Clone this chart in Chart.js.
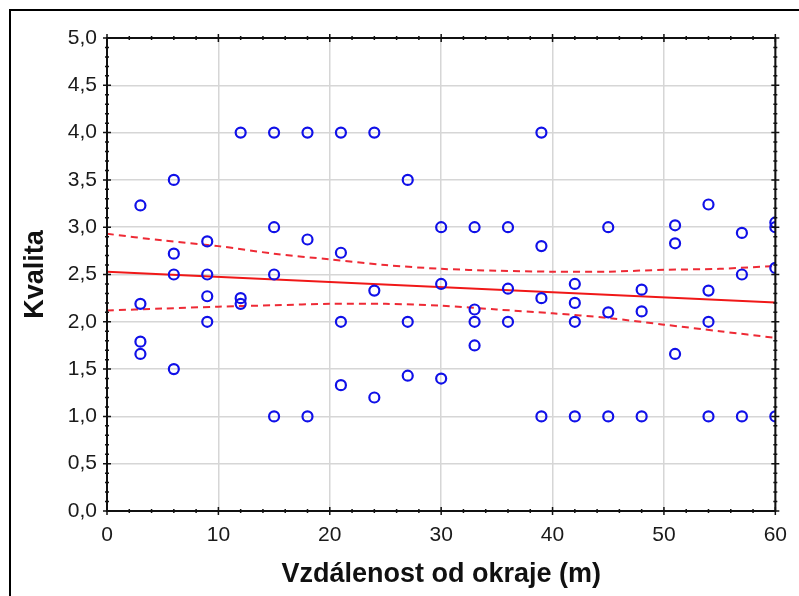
<!DOCTYPE html>
<html>
<head>
<meta charset="utf-8">
<script src="https://cdn.jsdelivr.net/npm/chart.js@4.4.1/dist/chart.umd.min.js"></script>
<style>
  html, body { margin: 0; padding: 0; background: #fff; }
  #wrap { position: relative; width: 799px; height: 596px; }
</style>
</head>
<body>
<div id="wrap"><canvas id="chart" width="799" height="596"></canvas></div>
<script>
// distance from edge (m) and quality for each sample
const distance = [
  3, 3, 3, 3,
  6, 6, 6, 6,
  9, 9, 9, 9,
  12, 12, 12,
  15, 15, 15, 15,
  18, 18, 18,
  21, 21, 21, 21,
  24, 24, 24,
  27, 27, 27,
  30, 30, 30,
  33, 33, 33, 33,
  36, 36, 36,
  39, 39, 39, 39,
  42, 42, 42, 42,
  45, 45, 45,
  48, 48, 48,
  51, 51, 51,
  54, 54, 54, 54,
  57, 57, 57,
  60, 60, 60, 60
];
const quality = [
  3.23, 2.19, 1.79, 1.66,
  3.5, 2.72, 2.5, 1.5,
  2.85, 2.5, 2.27, 2.0,
  4.0, 2.25, 2.19,
  4.0, 3.0, 2.5, 1.0,
  4.0, 2.87, 1.0,
  4.0, 2.73, 2.0, 1.33,
  4.0, 2.33, 1.2,
  3.5, 2.0, 1.43,
  3.0, 2.4, 1.4,
  3.0, 2.13, 2.0, 1.75,
  3.0, 2.35, 2.0,
  4.0, 2.8, 2.25, 1.0,
  2.4, 2.2, 2.0, 1.0,
  3.0, 2.1, 1.0,
  2.34, 2.11, 1.0,
  3.02, 2.83, 1.66,
  3.24, 2.33, 2.0, 1.0,
  2.94, 2.5, 1.0,
  3.05, 3.0, 2.57, 1.0
];

// regression line and its confidence band
const fitX = [0, 60];
const fitY = [2.53, 2.205];
const bandX = [0, 5, 10, 15, 20, 25, 30, 35, 40, 45, 50, 55, 60];
const bandUpper = [2.93, 2.86, 2.8, 2.72, 2.66, 2.6, 2.56, 2.54, 2.53, 2.53, 2.55, 2.56, 2.59];
const bandLower = [2.12, 2.14, 2.16, 2.175, 2.19, 2.19, 2.17, 2.13, 2.09, 2.04, 1.97, 1.9, 1.83];

const xTickLabels = ["0", "10", "20", "30", "40", "50", "60"];
const yTickLabels = ["0,0", "0,5", "1,0", "1,5", "2,0", "2,5", "3,0", "3,5", "4,0", "4,5", "5,0"];

const toPoints = (xs, ys) => xs.map((x, i) => ({ x: x, y: ys[i] }));

// outer frame, plot box and tick marks like the Statistica output
const framePlugin = {
  id: "frame",
  afterDraw(chart) {
    const ctx = chart.ctx;
    const a = chart.chartArea;
    const xs = chart.scales.x;
    const ys = chart.scales.y;
    ctx.save();
    ctx.strokeStyle = "#000";
    ctx.lineWidth = 2;
    ctx.beginPath();
    ctx.moveTo(10, 596);
    ctx.lineTo(10, 10);
    ctx.lineTo(799, 10);
    ctx.stroke();

    ctx.strokeStyle = "#111";
    ctx.strokeRect(a.left, a.top, a.right - a.left, a.bottom - a.top);

    ctx.lineWidth = 1.5;
    ctx.beginPath();
    for (let v = 0; v <= 60; v += 2) {
      const px = xs.getPixelForValue(v);
      const len = v % 10 === 0 ? 4 : 2;
      ctx.moveTo(px, a.bottom - len); ctx.lineTo(px, a.bottom + len);
      ctx.moveTo(px, a.top - len); ctx.lineTo(px, a.top + len);
    }
    for (let k = 0; k <= 50; k++) {
      const py = ys.getPixelForValue(k / 10);
      const len = k % 5 === 0 ? 4 : 2;
      ctx.moveTo(a.left - len, py); ctx.lineTo(a.left + len, py);
      ctx.moveTo(a.right - len, py); ctx.lineTo(a.right + len, py);
    }
    ctx.stroke();
    ctx.restore();
  }
};

const tickFont = { family: "'Liberation Sans', Arial, sans-serif", size: 21 };
const titleFont = { family: "'Liberation Sans', Arial, sans-serif", size: 27, weight: "bold" };

new Chart(document.getElementById("chart"), {
  type: "scatter",
  data: {
    datasets: [
      {
        label: "data",
        data: toPoints(distance, quality),
        pointStyle: "circle",
        pointRadius: 5,
        pointBorderWidth: 2.2,
        pointBorderColor: "#1010e8",
        pointBackgroundColor: "rgba(0,0,0,0)",
        order: 1
      },
      {
        label: "fit",
        type: "line",
        data: toPoints(fitX, fitY),
        borderColor: "#f01818",
        borderWidth: 2,
        pointRadius: 0,
        fill: false,
        order: 2
      },
      {
        label: "upper",
        type: "line",
        data: toPoints(bandX, bandUpper),
        borderColor: "#ee2a35",
        borderWidth: 2,
        borderDash: [7, 5],
        tension: 0.3,
        pointRadius: 0,
        fill: false,
        order: 3
      },
      {
        label: "lower",
        type: "line",
        data: toPoints(bandX, bandLower),
        borderColor: "#ee2a35",
        borderWidth: 2,
        borderDash: [7, 5],
        tension: 0.3,
        pointRadius: 0,
        fill: false,
        order: 3
      }
    ]
  },
  options: {
    responsive: false,
    animation: false,
    layout: { padding: { left: 0, top: 38, right: 22, bottom: 0 } },
    plugins: {
      legend: { display: false },
      tooltip: { enabled: false }
    },
    scales: {
      x: {
        type: "linear",
        min: 0,
        max: 60,
        afterFit(scale) { scale.height = 85; },
        grid: { color: "#d6d6d6", lineWidth: 1.5, drawTicks: false },
        border: { display: false },
        ticks: {
          stepSize: 10,
          padding: 12,
          color: "#1a1a1a",
          font: tickFont,
          callback: (v) => xTickLabels[Math.round(v / 10)]
        },
        title: {
          display: true,
          text: "Vzdálenost od okraje (m)",
          color: "#111",
          font: titleFont,
          padding: { top: 0, bottom: 5 }
        }
      },
      y: {
        type: "linear",
        min: 0,
        max: 5,
        afterFit(scale) { scale.width = 107; },
        grid: { color: "#d6d6d6", lineWidth: 1.5, drawTicks: false },
        border: { display: false },
        ticks: {
          stepSize: 0.5,
          padding: 10,
          color: "#1a1a1a",
          font: tickFont,
          callback: (v) => yTickLabels[Math.round(v * 2)]
        },
        title: {
          display: true,
          text: "Kvalita",
          color: "#111",
          font: titleFont,
          padding: { top: 19, bottom: 0 }
        }
      }
    }
  },
  plugins: [framePlugin]
});
</script>
</body>
</html>
